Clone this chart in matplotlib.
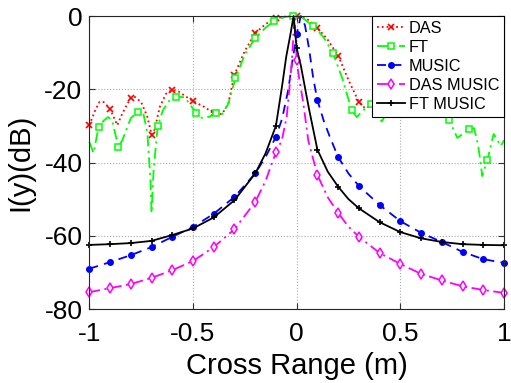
import numpy as np
import matplotlib
matplotlib.use("Agg")
import matplotlib.pyplot as plt

plt.rcParams['font.family'] = ['Liberation Sans', 'DejaVu Sans']

# ---- data (cross range in m, level in dB) ----
step_marks = [round(-1 + 0.1 * i, 1) for i in range(21)]

das_x = [-1.0, -0.97, -0.95, -0.93, -0.9, -0.865, -0.84, -0.8, -0.78, -0.75, -0.72, -0.7,
         -0.685, -0.66, -0.63, -0.6, -0.57, -0.54, -0.5, -0.44, -0.4, -0.36, -0.33, -0.3,
         -0.25, -0.2, -0.15, -0.1, -0.05, 0.0, 0.05, 0.1, 0.15, 0.2, 0.25, 0.3, 0.33, 0.36,
         0.4, 0.5, 0.6, 0.7, 0.8, 0.9, 1.0]
das_y = [-29.8, -25.5, -23.4, -23.5, -25.4, -29.8, -26.5, -22.3, -22.1, -23.5, -27.5, -32.4,
         -31.0, -24.8, -21.2, -20.2, -20.6, -21.8, -23.2, -25.0, -26.6, -26.8, -24.0, -16.0,
         -9.5, -4.7, -2.2, -0.6, -0.1, 0.0, -0.8, -3.2, -6.5, -10.8, -17.5, -23.5, -25.2, -24.5,
         -25.5, -23.0, -21.0, -24.0, -25.0, -22.0, -24.0]
das_marks = step_marks[:-1]

ft_x = [-1.0, -0.98, -0.955, -0.93, -0.91, -0.89, -0.86, -0.84, -0.8, -0.765, -0.74, -0.72,
        -0.705, -0.7, -0.69, -0.67, -0.645, -0.61, -0.58, -0.54, -0.485, -0.46, -0.42, -0.39,
        -0.36, -0.33, -0.295, -0.25, -0.2, -0.15, -0.11, -0.06, -0.018, 0.03, 0.08, 0.13,
        0.175, 0.22, 0.265, 0.29, 0.32, 0.36, 0.39, 0.41, 0.44, 0.455, 0.5, 0.55, 0.6, 0.64,
        0.69, 0.72, 0.735, 0.775, 0.83, 0.855, 0.875, 0.895, 0.92, 0.95, 0.985, 1.0]
ft_y = [-34.4, -37.4, -30.3, -28.5, -27.6, -28.5, -35.8, -33.8, -27.9, -26.2, -26.4, -32.0,
        -45.0, -53.8, -42.0, -30.0, -25.7, -22.8, -22.0, -22.2, -26.4, -27.8, -27.5, -26.5,
        -26.8, -24.0, -17.0, -10.5, -6.0, -3.2, -1.4, -0.3, 0.0, -0.6, -2.7, -5.8,
        -10.1, -17.0, -25.7, -27.6, -25.8, -24.0, -26.5, -28.8, -26.0, -24.0, -23.0, -22.0, -22.0, -21.5,
        -23.0, -27.3, -28.4, -33.3, -30.9, -30.6, -35.0, -43.7, -39.3, -32.2, -35.5, -33.9]
ft_marks = [-0.955, -0.86, -0.765, -0.67, -0.58, -0.485, -0.39, -0.295, -0.2, -0.11, -0.018,
            0.08, 0.175, 0.265, 0.36, 0.455, 0.55, 0.64, 0.735, 0.83, 0.92]

music_x = [-1.0, -0.9, -0.8, -0.7, -0.6, -0.5, -0.4, -0.3, -0.2, -0.15, -0.1, -0.07, -0.04,
           -0.02, 0.0, 0.02, 0.04, 0.06, 0.08, 0.1, 0.13, 0.16, 0.2, 0.25, 0.3, 0.4, 0.5, 0.6,
           0.7, 0.8, 0.9, 1.0]
music_y = [-69.0, -67.2, -65.3, -63.1, -60.3, -57.6, -54.0, -49.4, -43.0, -38.5, -33.0, -28.0, -20.0,
           -12.0, -5.0, 0.0, -2.5, -9.0, -17.0, -23.0, -28.5, -33.0, -38.5, -43.0, -46.4, -51.6, -56.0,
           -59.2, -61.7, -64.4, -66.4, -67.4]

dasm_x = [-1.0, -0.9, -0.8, -0.7, -0.6, -0.5, -0.4, -0.3, -0.2, -0.15, -0.1, -0.072, -0.048,
          -0.024, -0.01, 0.0, 0.008, 0.032, 0.056, 0.1, 0.15, 0.2, 0.25, 0.3, 0.4, 0.5, 0.6,
          0.7, 0.8, 0.9, 1.0]
dasm_y = [-75.4, -74.3, -73.2, -71.5, -69.4, -66.9, -63.1, -58.2, -50.8, -45.0, -37.2, -34.0, -27.5,
          -13.0, 0.0, -12.0, -15.6, -23.8, -34.0, -43.4, -49.5, -53.8, -57.5, -60.3, -64.7, -67.7,
          -70.4, -72.2, -73.8, -74.8, -75.6]

ftm_x = [-1.0, -0.9, -0.8, -0.7, -0.6, -0.5, -0.4, -0.3, -0.2, -0.15, -0.1, -0.07, -0.05, -0.03,
         -0.015, 0.0, 0.02, 0.04, 0.06, 0.08, 0.1, 0.15, 0.2, 0.25, 0.3, 0.4, 0.5, 0.6, 0.7, 0.8,
         0.9, 1.0]
ftm_y = [-62.5, -62.3, -62.0, -61.4, -59.8, -58.0, -55.0, -50.3, -43.0, -37.5, -30.0, -19.0, -11.0,
         -5.0, 0.0, -8.8, -13.5, -19.5, -25.5, -31.0, -36.5, -42.5, -46.6, -50.0, -52.5, -56.3, -59.0,
         -60.7, -61.7, -62.3, -62.5, -62.6]

labels = ['DAS', 'FT', 'MUSIC', 'DAS MUSIC', 'FT MUSIC']


def mark_idx(xs, marks):
    xs = np.asarray(xs)
    return [int(np.argmin(np.abs(xs - m))) for m in marks]


fig = plt.figure(figsize=(5.11, 3.83), dpi=100)
ax = fig.add_axes([0.1748, 0.1932, 0.8115, 0.765])

common = dict(lw=1.3, ms=5, clip_on=False)
ax.plot(das_x, das_y, ':', color=(1, 0, 0), marker='x', mew=1.2,
        markevery=mark_idx(das_x, das_marks), label=labels[0], **common)
ax.plot(ft_x, ft_y, color=(0, 1, 0), ls=(0, (6, 2.5, 1.2, 2.5)), marker='s', mfc='white', mew=1.1,
        markevery=mark_idx(ft_x, ft_marks), label=labels[1], **common)
ax.plot(music_x, music_y, color=(0, 0, 1), ls=(0, (5, 3.5)), marker='o', ms=4,
        markevery=mark_idx(music_x, step_marks), label=labels[2], lw=1.3, clip_on=False)
ax.plot(dasm_x, dasm_y, color=(1, 0, 1), ls=(0, (6, 2.5, 1.2, 2.5)), marker='d', mfc='white', mew=1.1,
        markevery=mark_idx(dasm_x, step_marks), label=labels[3], **common)
ax.plot(ftm_x, ftm_y, '-', color='k', marker='+', mew=1.2,
        markevery=mark_idx(ftm_x, step_marks), label=labels[4], **common)

ax.set_xlim(-1, 1)
ax.set_ylim(-80, 0)
ax.set_xticks([-1, -0.5, 0, 0.5, 1])
ax.set_xticklabels(['-1', '-0.5', '0', '0.5', '1'])
ax.set_yticks([-80, -60, -40, -20, 0])
ax.set_yticklabels(['-80', '-60', '-40', '-20', '0'])
ax.tick_params(direction='in', top=True, right=True, labelsize=19, length=4,
               width=0.8, color='#333333')
ax.tick_params(axis='x', pad=9)
ax.tick_params(axis='y', pad=5)
ax.grid(True, ls=':', color='#aaaaaa', lw=0.8)
for s in ax.spines.values():
    s.set_linewidth(0.8)
    s.set_color('#262626')

ax.set_xlabel('Cross Range (m)', fontsize=21, labelpad=5)
ax.set_ylabel('I(y)(dB)', fontsize=21, labelpad=7)

leg = ax.legend(loc='upper right', fontsize=11.7, frameon=True, fancybox=False,
                borderaxespad=0, handlelength=1.75, handletextpad=0.2,
                labelspacing=0.25, borderpad=0.3, framealpha=1)
leg.get_frame().set_edgecolor('k')
leg.get_frame().set_linewidth(0.8)

fig.savefig('out.png', dpi=100)
